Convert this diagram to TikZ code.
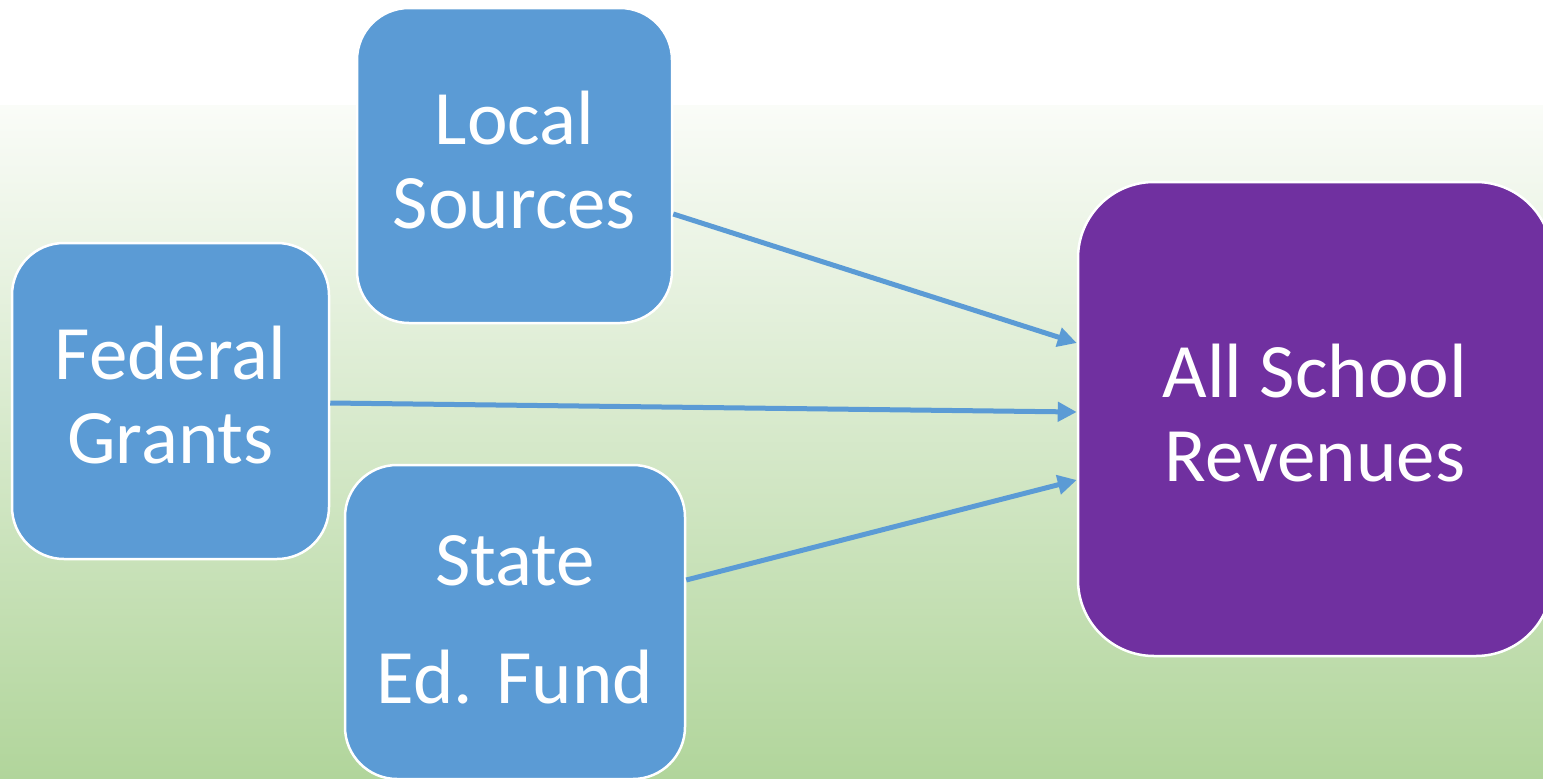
\documentclass[tikz,border=0pt]{standalone}
\usepackage{fontspec}
\setmainfont{Carlito}
\usetikzlibrary{arrows.meta}
\definecolor{boxblue}{HTML}{5B9BD5}
\definecolor{boxpurple}{HTML}{7030A0}
\definecolor{greentop}{HTML}{FAFCF8}
\definecolor{greenmid}{HTML}{DFEED5}
\definecolor{greenbot}{HTML}{B1D59B}
\tikzset{
  srcbox/.style={draw=white, line width=2.5pt, fill=boxblue, rounded corners=52pt,
    text=white, align=center, inner sep=0pt},
  sumbox/.style={draw=white, line width=2.5pt, fill=boxpurple, rounded corners=76pt,
    text=white, align=center, inner sep=0pt},
  bigtext/.style={font=\fontsize{77}{84}\selectfont,
    execute at end node={\rule[-12pt]{0pt}{0pt}}},
  widetext/.style={font=\fontsize{77}{118}\selectfont,
    execute at end node={\rule[-4pt]{0pt}{0pt}}},
  flow/.style={draw=boxblue, line width=5pt, -{Triangle[length=19pt,width=19pt]}}
}
\begin{document}
\begin{tikzpicture}[x=1pt,y=-1pt]
  \useasboundingbox (0,0) rectangle (1543,779);
  \clip (0,0) rectangle (1543,779);
  % background: white top fading into green
  \fill[white] (0,0) rectangle (1543,105);
  \shade[top color=greentop, middle color=greenmid, bottom color=greenbot] (0,105) rectangle (1543,779);

  % source boxes
  \node[srcbox, bigtext, minimum width=315pt, minimum height=315pt] (local) at (514.5,165.5) {Local\\Sources};
  \node[srcbox, bigtext, minimum width=317pt, minimum height=316pt] (federal) at (170.5,401) {Federal\\Grants};
  \node[srcbox, widetext, minimum width=340pt, minimum height=314pt] (state) at (515,622) {State\\Ed. Fund};
  % target box
  \node[sumbox, bigtext, minimum width=474pt, minimum height=474pt] (rev) at (1315,419) {All School\\Revenues};

  % flows into the revenue box
  \draw[flow] ([yshift=-48.5pt]local.east) -- ([yshift=76pt]rev.west);
  \draw[flow] ([yshift=-2pt]federal.east) -- ([yshift=7pt]rev.west);
  \draw[flow] ([yshift=42pt]state.east) -- ([yshift=-61pt]rev.west);
\end{tikzpicture}
\end{document}
